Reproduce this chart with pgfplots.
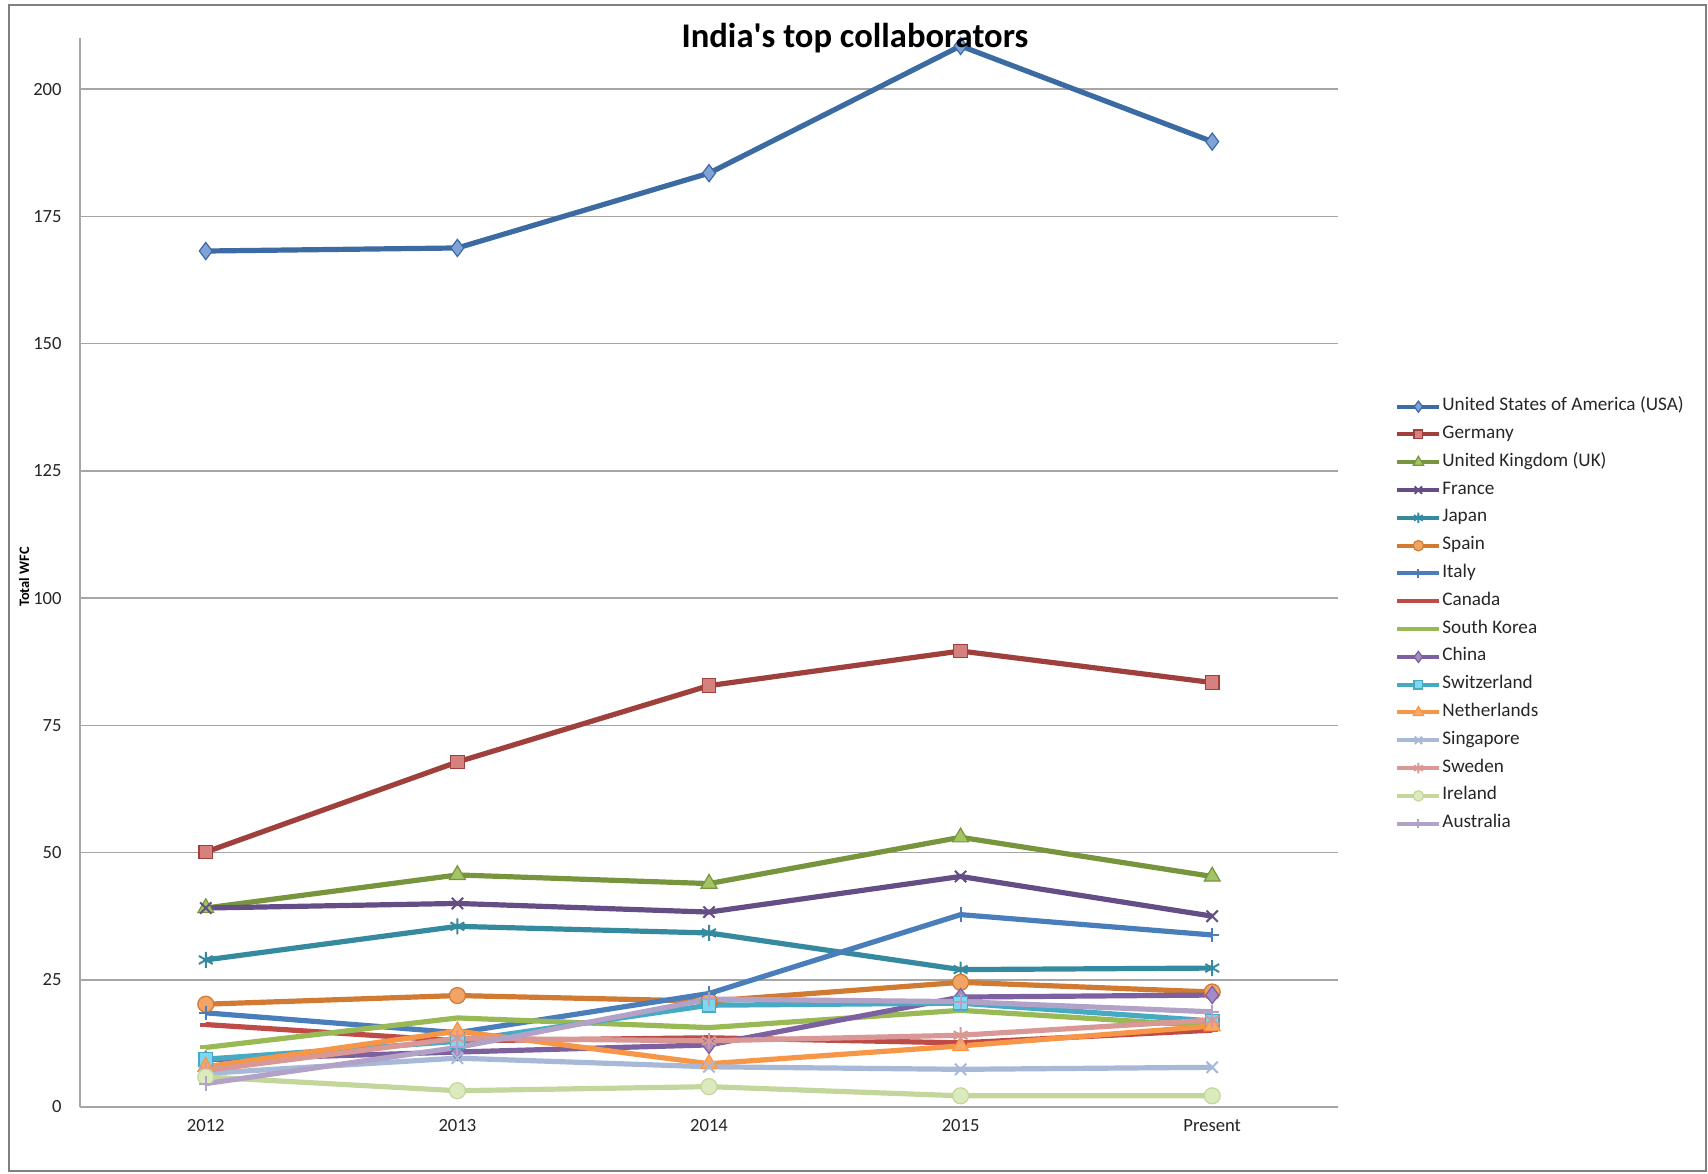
\documentclass[border=0pt]{standalone}
\usepackage{fontspec}
\setmainfont{Carlito}
\usepackage{pgfplots}
\usepackage{pgfplotstable}
\pgfplotsset{compat=1.18}

% series colours (Excel 2007 palette, dark / normal / light)
\definecolor{cUSA}{HTML}{3C6AA3}\definecolor{fUSA}{HTML}{7FA3D8}
\definecolor{cGER}{HTML}{A0403D}\definecolor{fGER}{HTML}{D7817E}
\definecolor{cUK}{HTML}{77953D}\definecolor{fUK}{HTML}{A3C566}
\definecolor{cFRA}{HTML}{654E86}
\definecolor{cJPN}{HTML}{358A9F}
\definecolor{cESP}{HTML}{D07A32}\definecolor{fESP}{HTML}{F2A466}
\definecolor{cITA}{HTML}{4A7EBB}
\definecolor{cCAN}{HTML}{BE4B48}
\definecolor{cKOR}{HTML}{98B954}
\definecolor{cCHN}{HTML}{7D60A0}\definecolor{fCHN}{HTML}{A48BC8}
\definecolor{cSUI}{HTML}{46AAC5}\definecolor{fSUI}{HTML}{7FD6EE}
\definecolor{cNED}{HTML}{F79646}\definecolor{fNED}{HTML}{F9A868}
\definecolor{cSGP}{HTML}{A7B9D7}
\definecolor{cSWE}{HTML}{D99795}
\definecolor{cIRL}{HTML}{C3D69B}\definecolor{fIRL}{HTML}{DCEBBE}
\definecolor{cAUS}{HTML}{B3A2C7}
\definecolor{gridgray}{HTML}{A6A6A6}
\definecolor{txt}{HTML}{262626}

\pgfplotstableread{
x   usa   ger  uk   fra  jpn  esp  ita  can  kor  chn  sui  ned  sgp  swe  irl  aus
0.5 168.2 50.1 39.1 39.1 28.9 20.2 18.5 16.2 11.7 9.3  9.4  7.9  6.6  7.2  5.9  4.6
1.5 168.8 67.8 45.6 40.0 35.5 21.9 14.6 13.0 17.5 10.8 12.9 14.9 9.6  13.5 3.2  11.7
2.5 183.5 82.8 43.9 38.3 34.2 20.8 22.3 13.6 15.6 12.2 20.0 8.5  7.9  13.0 4.0  21.2
3.5 208.5 89.6 53.0 45.3 27.0 24.5 37.8 12.6 19.0 21.6 20.4 12.0 7.4  14.1 2.2  20.7
4.5 189.7 83.4 45.3 37.5 27.3 22.6 33.8 15.1 15.9 22.0 16.9 15.9 7.8  17.1 2.2  18.7
}\wfc

\begin{document}
\begin{tikzpicture}
\useasboundingbox (0,0) rectangle (854pt,586.5pt);
\begin{axis}[
    at={(40pt,33pt)}, anchor=south west,
    scale only axis,
    width=629pt, height=534.35pt,
    xmin=0, xmax=5,
    ymin=0, ymax=210,
    xtick={0.5,1.5,2.5,3.5,4.5},
    xticklabels={2012,2013,2014,2015,Present},
    ytick={0,25,...,200},
    axis lines=left,
    axis line style={-, draw=gridgray, line width=0.8pt},
    ymajorgrids,
    grid style={draw=gridgray, line width=0.8pt},
    major tick length=0pt,
    /pgf/number format/assume math mode=true,
    tick label style={font=\fontsize{9.3}{11}\selectfont, text=txt},
    yticklabel style={anchor=east, inner sep=0pt, xshift=-9pt},
    xticklabel style={anchor=north, inner sep=0pt, yshift=-6pt},
    ylabel={Total WFC},
    ylabel style={at={(axis description cs:-0.0445,0.496)}, anchor=center,
        font=\bfseries\fontsize{7.2}{8}\selectfont, text=black},
    title={India\textquotesingle s top collaborators},
    title style={at={(axis description cs:0.616,0.989)}, anchor=center, yshift=0pt,
        font=\bfseries\fontsize{17.3}{19}\selectfont, text=black},
    legend cell align=left,
    legend style={at={(axis description cs:1.0453,0.4602)}, anchor=west,
        draw=none, fill=none, inner sep=0pt, row sep=0pt,
        font=\fontsize{9.6}{11}\selectfont, text=txt,
        nodes={inner xsep=0.5pt, inner ysep=0pt, text height=9pt, text depth=4.9pt}},
    legend image code/.code={
        \draw[mark repeat=2,mark phase=2,#1]
            plot coordinates {(0pt,0pt) (10.5pt,0pt) (21pt,0pt)};},
    legend image post style={line width=2pt, /tikz/every mark/.append style={scale=0.65}},
    every axis plot/.append style={line width=2.6pt},
]
\addplot[cUSA, mark=diamond*, mark size=4.3pt,
    mark options={fill=fUSA, draw=cUSA, line width=0.6pt}] table[x=x,y=usa]{\wfc};
\addlegendentry{United States of America (USA)}
\addplot[cGER, mark=square*, mark size=3.4pt,
    mark options={fill=fGER, draw=cGER, line width=0.6pt}] table[x=x,y=ger]{\wfc};
\addlegendentry{Germany}
\addplot[cUK, mark=triangle*, mark size=4.6pt,
    mark options={fill=fUK, draw=cUK, line width=0.6pt}] table[x=x,y=uk]{\wfc};
\addlegendentry{United Kingdom (UK)}
\addplot[cFRA, mark=x, mark size=4pt,
    mark options={draw=cFRA, line width=1pt}] table[x=x,y=fra]{\wfc};
\addlegendentry{France}
\addplot[cJPN, mark=asterisk, mark size=4pt,
    mark options={draw=cJPN, line width=1pt}] table[x=x,y=jpn]{\wfc};
\addlegendentry{Japan}
\addplot[cESP, mark=*, mark size=4pt,
    mark options={fill=fESP, draw=cESP, line width=0.6pt}] table[x=x,y=esp]{\wfc};
\addlegendentry{Spain}
\addplot[cITA, mark=+, mark size=3.6pt,
    mark options={draw=cITA, line width=1pt}] table[x=x,y=ita]{\wfc};
\addlegendentry{Italy}
\addplot[cCAN, mark=-, mark size=3pt,
    mark options={draw=cCAN, line width=2pt}] table[x=x,y=can]{\wfc};
\addlegendentry{Canada}
\addplot[cKOR, mark=-, mark size=3pt,
    mark options={draw=cKOR, line width=2pt}] table[x=x,y=kor]{\wfc};
\addlegendentry{South Korea}
\addplot[cCHN, mark=diamond*, mark size=4.3pt,
    mark options={fill=fCHN, draw=cCHN, line width=0.6pt}] table[x=x,y=chn]{\wfc};
\addlegendentry{China}
\addplot[cSUI, mark=square*, mark size=3.4pt,
    mark options={fill=fSUI, draw=cSUI, line width=0.6pt}] table[x=x,y=sui]{\wfc};
\addlegendentry{Switzerland}
\addplot[cNED, mark=triangle*, mark size=4.6pt,
    mark options={fill=fNED, draw=cNED, line width=0.6pt}] table[x=x,y=ned]{\wfc};
\addlegendentry{Netherlands}
\addplot[cSGP, mark=x, mark size=4pt,
    mark options={draw=cSGP, line width=1pt}] table[x=x,y=sgp]{\wfc};
\addlegendentry{Singapore}
\addplot[cSWE, mark=asterisk, mark size=4pt,
    mark options={draw=cSWE, line width=1pt}] table[x=x,y=swe]{\wfc};
\addlegendentry{Sweden}
\addplot[cIRL, mark=*, mark size=4pt,
    mark options={fill=fIRL, draw=cIRL, line width=0.6pt}] table[x=x,y=irl]{\wfc};
\addlegendentry{Ireland}
\addplot[cAUS, mark=+, mark size=3.6pt,
    mark options={draw=cAUS, line width=1pt}] table[x=x,y=aus]{\wfc};
\addlegendentry{Australia}
\end{axis}
% chart area frame
\draw[draw=gray, line width=0.9pt] (4.5pt,1pt) rectangle (853pt,584pt);
\end{tikzpicture}
\end{document}
